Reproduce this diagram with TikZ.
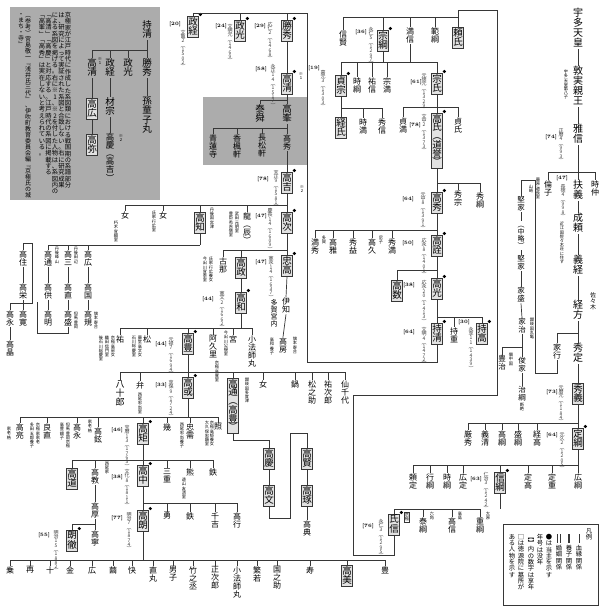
\documentclass[tikz,border=0pt]{standalone}
\usepackage{fontspec}
\newfontfamily\jp{Noto Sans CJK JP}
\usetikzlibrary{calc}
\ExplSyntaxOn
\NewDocumentCommand\vt{O{1}m}{\vbox{\baselineskip=#1em\lineskiplimit=-\maxdimen\lineskip=0pt\tl_map_inline:nn{#2}{\hbox_to_wd:nn{1em}{\hss##1\hss\vrule height.8em depth.2em width0pt}}}}
\ExplSyntaxOff
\definecolor{panel}{RGB}{172,172,172}
\definecolor{boxf}{RGB}{226,226,226}
\definecolor{lnc}{RGB}{55,55,55}
\tikzset{
 nm/.style={font=\jp\fontsize{8}{8}\selectfont, inner sep=0.3pt, anchor=north},
 nmb/.style={nm, font=\jp\fontsize{9.5}{9.5}\selectfont},
 big/.style={nm, font=\jp\fontsize{10}{10}\selectfont},
 bx/.style={nmb, draw=lnc, fill=boxf, line width=0.5pt, inner sep=0.8pt},
 dt/.style={font=\jp\fontsize{5}{5}\selectfont, inner sep=0pt, anchor=north, text=black!75},
 sm/.style={font=\jp\fontsize{4.2}{4.2}\selectfont, inner sep=0pt, anchor=north},
 ag/.style={font=\bfseries\fontsize{5}{5}\selectfont, inner sep=0pt, anchor=north},
 pn/.style={font=\jp\fontsize{6.3}{6.3}\selectfont, inner sep=0pt, anchor=north},
 lg/.style={font=\jp\fontsize{6.3}{6.3}\selectfont, inner sep=0pt, anchor=north},
 ln/.style={draw=lnc, line width=0.7pt},
}
\newcommand\NN[4][nm]{\node[#1] (#2) at (#3) {\vt{#4}};}
\newcounter{tn}
\newcommand\DT[2]{\stepcounter{tn}\node[dt] (dt\arabic{tn}) at (#1) {\vt[0.86]{#2}};}
\newcommand\AG[2]{\stepcounter{tn}\node[ag] (ag\arabic{tn}) at (#1) {[#2]};}
\newcommand\SM[2]{\stepcounter{tn}\node[sm] (sm\arabic{tn}) at (#1) {\vt{#2}};}
\newcommand\hd[1]{\fill ([xshift=1.5pt,yshift=1.5pt]#1.north east) circle (1.7pt);}
\newcommand\famrow[5]{%
 \draw[ln] (#1.south) -- (#1.south |- 0,#2);
 \draw[ln] (#3.north |- 0,#2) -- (#4.north |- 0,#2);
 \foreach \k in {#5}{\draw[ln] (\k.north) -- (\k.north |- 0,#2);}}
\newcommand\vl[2]{\draw[ln] (#1.south) -- (#2.north);}
\begin{document}
\begin{tikzpicture}[x=1pt,y=-1pt]
\useasboundingbox (0,0) rectangle (600,607);
\fill[white] (0,0) rectangle (600,607);
\fill[panel] (10,7) rectangle (160,200);
\fill[panel] (203,97) rectangle (307,165);
% ---- panel 1 notes
\node[pn] (n1) at (68,12) {\vt{京極家が江戸時代に作成した系図類における戦国期の系譜部分}};
\node[pn] (n2) at (61.5,12) {\vt{は、研究によって実証された系図と合致しない。右に研究成果}};
\node[pn] (n3) at (55,12) {\vt{による系図を掲げる。右に※1、※2を付した人物は、系図内の}};
\node[pn] (n4) at (48.5,12) {\vt{﹁高清﹂﹁高慶﹂と対応する。江戸時代の系図に掲載する}};
\node[pn] (n5) at (42,12) {\vt{﹁高峯﹂﹁高秀﹂は実在しないと考えられている。}};
\node[pn,font=\jp\fontsize{6}{6}\selectfont] (n6) at (28,12) {\vt{︵参考︶宮島敬一﹃浅井氏三代﹄、伊吹町教育委員会編﹃京極氏の城}};
\node[pn,font=\jp\fontsize{6}{6}\selectfont] (n7) at (21,12) {\vt{・まち・寺﹄}};
% ---- panel 1 tree
\NN[nmb]{pmochi}{147,20}{持清}
\NN[nmb]{pkatsu}{147,58}{勝秀}
\NN[nmb]{pmasa}{128,58}{政光}
\NN[nmb]{ptsune}{110,58}{政経}
\NN[nmb]{pkiyo}{92,58}{高清}
\SM{100,57}{※1}
\NN[nmb]{pmago}{147,96}{孫童子丸}
\NN[nmb]{pkimune}{110,97}{材宗}
\node[nm,font=\jp\fontsize{8.5}{8.5}\selectfont] (ptakayo) at (110,133) {\vt[0.95]{高慶︵高吉︶}};
\SM{121,134}{※2}
\NN[bx]{phiro}{92,98}{高広}
\NN[bx]{pya}{92,134}{高弥}
\famrow{pmochi}{50}{pkiyo}{pkatsu}{pkiyo,ptsune,pmasa,pkatsu}
\vl{pkatsu}{pmago}
\vl{ptsune}{pkimune}
\vl{pkimune}{ptakayo}
\vl{pkiyo}{phiro}
\vl{phiro}{pya}
% ---- main top row
\NN[bx]{tsune}{193,16}{政経}\hd{tsune}
\DT{183,30}{文亀2︵1502︶}\AG{175,22}{20}
\NN[bx]{mitsu}{240,20}{政光}\hd{mitsu}
\DT{230,24}{文明元︵1469︶}\AG{221,24}{24}
\NN[bx]{katsu}{287,20}{勝秀}\hd{katsu}
\DT{270,22}{応仁2︵1468︶}\AG{260,24}{29}
\NN[bx]{kiyo}{287,73}{高清}\hd{kiyo}
\DT{273,64}{永正14︵1517︶}\AG{261,67}{58}
\SM{301,72}{※1}
\vl{katsu}{kiyo}
% panel 2
\NN[nmb]{mine}{287,104}{高峯}
\NN[nmb]{shun}{260,104}{泰舜}
\vl{kiyo}{mine}
\draw[ln] (shun.north) -- (shun.north |- 0,100) -- (mine.north |- 0,100);
\NN{shoren}{213,134}{青蓮寺}
\NN{kofu}{237,134}{香楓軒}
\NN{choshou}{262,134}{長松軒}
\NN{phide}{287,134}{高秀}
\famrow{mine}{128}{shoren}{phide}{shoren,kofu,choshou,phide}
\NN[bx]{yoshi}{287,172}{高吉}\hd{yoshi}
\DT{276,170}{天正9︵1581︶}\AG{263,177}{78}
\SM{302,185}{※2}
\vl{phide}{yoshi}
% row 205
\NN{onnaA}{125,211}{女}\SM{116,221}{朽木宣綱室}
\NN{onnaB}{163,211}{女}\SM{154,211}{氏家行広室}
\NN[bx]{tomo}{200,212}{高知}\SM{212,208}{丹後国宮津}
\NN{ryu}{247,212}{龍︵辰︶}\SM{237,212}{武田元明室}\SM{231,212}{豊臣秀吉側室}
\NN[bx]{tsugu}{287,212}{高次}\hd{tsugu}
\DT{270,208}{慶長14︵1609︶}\AG{261,214}{47}
\famrow{yoshi}{205}{onnaA}{tsugu}{onnaA,onnaB,tomo,ryu,tsugu}
% row 250
\NN{kona}{223,257}{古那}\SM{211,257}{氏家行広養女}\SM{205,257}{今出川宣季室}
\NN[bx]{masa}{241,257}{高政}
\NN[bx]{tada}{287,255}{忠高}\hd{tada}
\DT{271,256}{寛永14︵1637︶}\AG{261,260}{47}
\famrow{tsugu}{250}{kona}{tada}{kona,masa,tada}
\NN{ichi}{286,297}{伊知}
\NN[nm,font=\jp\fontsize{7}{7}\selectfont]{taga}{274,299}{多賀宮内}
\vl{tada}{ichi}
\NN[bx]{kazu}{241,292}{高和}\hd{kazu}
\DT{222,291}{寛文2︵1662︶}\AG{208,297}{44}
\vl{masa}{kazu}
\NN{fusa}{283,337}{高房}\SM{272,338}{高和養子}\SM{295,337}{旗本寄合}
\vl{ichi}{fusa}
% row 328
\NN{yu}{120,335}{祐}\SM{113,336}{京極高房女}\SM{107,336}{織田信門室}\SM{101,336}{後石川総慶室}
\NN{matsu}{147,335}{松}\SM{140,336}{藤堂高文女}\SM{134,336}{石川総慶室}
\NN[bx]{toyo}{188,333}{高豊}\hd{toyo}
\DT{171,337}{元禄7︵1694︶}\AG{161,342}{44}
\NN{akuri}{213,335}{阿久里}\SM{217,361}{京極高寛室}
\NN{miya}{233,335}{宮}\SM{226,331}{今出川公規室}
\NN{kobo}{252,335}{小法師丸}
\famrow{kazu}{328}{yu}{kobo}{yu,matsu,toyo,akuri,miya,kobo}
% row 372
\NN[nm,font=\jp\fontsize{9}{9}\selectfont]{yaso}{120,380}{八十郎}
\NN{ben}{140,381}{弁}\SM{140,393}{西尾忠尚室}
\NN[bx]{kei}{188,377}{高或}\hd{kei}
\DT{171,380}{享保9︵1724︶}\AG{161,383}{33}
\node[bx] (michi) at (233,378) {\vt[0.92]{高通︵高豊︶}};
\SM{247,378}{讃岐国多度津}
\NN{onnaC}{263,380}{女}
\NN{nabe}{295,380}{鍋}
\NN{matsuno}{312,380}{松之助}
\NN{yuji}{328,380}{祐次郎}
\NN{sen}{345,380}{仙千代}
\famrow{toyo}{372}{yaso}{sen}{yaso,ben,kei,michi,onnaC,nabe,matsuno,yuji,sen}
% row 417
\NN{ryo}{20,423}{高亮}\SM{9,427}{家老格}
\NN{yoshinao}{47,423}{良直}\SM{38,423}{京極家家老}\SM{32,423}{多田五郎養子}
\NN{takanaga}{77,423}{高永}\SM{68,423}{但馬豊岡京極}\SM{62,423}{高豊嫡子}
\NN{takayu}{98,427}{高鉉}\SM{90,420}{家老格}
\NN[bx]{nori}{143,423}{高矩}\hd{nori}
\DT{127,425}{宝暦13︵1763︶}\AG{117,428}{46}
\NN{iku}{167,423}{幾}
\NN{tadamoto}{190,423}{忠需}\SM{182,423}{西尾忠尚養子}
\NN{teru}{218,423}{照}\SM{212,421}{京極高矩養女}\SM{207,421}{大久保忠顕室}
\famrow{kei}{417}{ryo}{teru}{ryo,yoshinao,takanaga,takayu,nori,iku,tadamoto,teru}
% row 460
\NN[bx]{michib}{72,468}{高道}
\NN{norib}{95,468}{高教}\SM{107,462}{西尾家}
\NN[bx]{naka}{143,465}{高中}\hd{naka}
\DT{127,469}{文化8︵1811︶}\AG{117,475}{38}
\NN{mie}{167,468}{三重}
\NN{kuma}{190,468}{熊}\SM{184,478}{遠山友清室}
\NN{tetsuA}{213,468}{鉄}
\famrow{nori}{460}{michib}{tetsuA}{michib,norib,naka,mie,kuma,tetsuA}
\NN{atsu}{95,502}{高厚}
\vl{norib}{atsu}
\NN[bx]{rotetsu}{72,530}{朗徹}\hd{rotetsu}
\DT{56,530}{明治15︵1882︶}\AG{44,533}{55}
\NN{nei}{95,530}{高寧}
\famrow{atsu}{524}{rotetsu}{nei}{rotetsu,nei}
% row 503
\NN[bx]{rou}{143,510}{高朗}\hd{rou}
\DT{129,512}{明治7︵1874︶}\AG{117,516}{77}
\NN{isamu}{167,512}{勇}
\NN{tetsuB}{190,512}{鉄}
\NN{senkichi}{215,512}{千吉}
\NN{takayuki}{237,512}{高行}
\famrow{naka}{503}{rou}{takayuki}{rou,isamu,tetsuB,senkichi,takayuki}
% bottom row
\NN{c1}{10,566}{乗}\NN{c2}{30,566}{再}\NN{c3}{50,566}{十}\NN{c4}{70,566}{金}
\NN{c5}{92,566}{広}\NN{c6}{113,566}{繭}\NN{c7}{132,566}{快}\NN{c8}{153,566}{直丸}
\NN{c9}{173,566}{男子}\NN{c10}{193,566}{竹之丞}\NN{c11}{215,566}{正次郎}
\NN{c12}{237,566}{小法師丸}\NN{c13}{257,566}{繁若}\NN{c14}{277,566}{国之助}
\NN{c15}{310,566}{寿}\NN[bx]{c16}{347,565}{高美}\NN{c17}{385,566}{豊}
\famrow{rou}{560}{c1}{c17}{c1,c2,c3,c4,c5,c6,c7,c8,c9,c10,c11,c12,c13,c14,c15,c16,c17}
% takayoshi/takakata branch
\NN[bx]{keyoshi}{269,448}{高慶}
\NN[bx]{fumi}{269,485}{高文}
\NN[bx]{kata}{307,448}{高賢}
\NN[bx]{taku}{307,485}{高琢}
\NN{norinori}{307,520}{高典}
\draw[ln] (michi.south) -- (michi.south |- 0,440) -- (keyoshi.north |- 0,440) -- (keyoshi.north);
\vl{keyoshi}{fumi}
\draw[ln] (fumi.south) -- (fumi.south |- 0,518) -- (290,518) -- (290,433) -- (kata.north |- 0,433) -- (kata.north);
\vl{kata}{taku}
\vl{taku}{norinori}
% left branch
\NN{takasumi}{23,250}{高住}
\NN{takaei}{23,283}{高栄}
\NN{takahiroK}{23,310}{高寛}
\NN{takanagaB}{10,310}{高永}
\NN{takaakiB}{10,340}{高晶}
\vl{takasumi}{takaei}\vl{takaei}{takahiroK}\vl{takanagaB}{takaakiB}
\draw[ln] (takasumi.north) -- (23,243) -- (32,243) -- (32,303) -- (takanagaB.north |- 0,303) -- (takanagaB.north);
\NN{tmichi}{48,250}{高通}\SM{57,247}{丹後峰山}
\NN{tmi}{68,250}{高三}\SM{76,247}{丹後田辺}
\NN{thiro}{88,250}{高広}
\famrow{tomo}{245}{tmichi}{tomo}{tmichi,tmi,thiro}
\NN{ttomo}{48,283}{高供}\NN{tnao}{68,283}{高直}\NN{tkuni}{88,283}{高国}
\NN{takiB}{48,310}{高明}\NN{tmori}{68,310}{高盛}\SM{76,312}{但馬豊岡}
\NN{tnori}{88,310}{高規}\SM{96,312}{旗本寄合}
\vl{tmichi}{ttomo}\vl{tmi}{tnao}\vl{thiro}{tkuni}
\vl{ttomo}{takiB}\vl{tnao}{tmori}\vl{tkuni}{tnori}
\draw[ln] (37,302) -- (37,333) -- (tmori.south |- 0,333) -- (tmori.south);
% ---- right-middle tree
\NN[bx]{yoriuji}{458,27}{頼氏}
\NN{nobukata}{343,30}{信賢}
\NN[bx]{munetsuna}{383,30}{宗綱}\hd{munetsuna}
\DT{371,27}{永仁5︵1297︶}\AG{361,30}{36}
\NN{mitsunobu}{410,27}{満信}
\NN{noritsuna}{435,27}{範綱}
\draw[ln] (nobukata.north |- 0,17) -- (yoriuji.north |- 0,17);
\foreach \k in {nobukata,munetsuna,mitsunobu,noritsuna}{\draw[ln] (\k.north) -- (\k.north |- 0,17);}
\NN[bx]{sadamune}{341,75}{貞宗}\hd{sadamune}
\DT{323,70}{嘉元3︵1303︶}\AG{314,66}{19}
\NN{tokitsuna}{357,77}{時綱}
\NN{sukenobu}{372,77}{祐信}
\NN{munemitsu}{387,77}{宗満}
\NN[bx]{muneuji}{437,73}{宗氏}\hd{muneuji}
\DT{424,73}{元徳元︵1329︶}\AG{416,80}{61}
\famrow{munetsuna}{62}{sadamune}{muneuji}{sadamune,tokitsuna,sukenobu,munemitsu,muneuji}
\draw[ln] (mitsunobu.south) -- (mitsunobu.south |- 0,62);
\NN[bx]{tsuneuji}{341,117}{経氏}
\NN{tokimitsu}{363,118}{時満}
\NN{hidenobu}{382,118}{秀信}
\famrow{sadamune}{108}{tsuneuji}{hidenobu}{tsuneuji,tokimitsu,hidenobu}
\NN{sadamitsu}{403,117}{貞満}
\node[bx] (takauji) at (437,113) {\vt[0.92]{高氏︵道誉︶}};\hd{takauji}
\DT{424,114}{文中2︵1373︶}\AG{415,123}{78}
\NN{sadauji}{458,117}{貞氏}
\famrow{muneuji}{107}{sadamitsu}{sadauji}{sadamitsu,takauji,sadauji}
\NN[bx]{takahide}{437,192}{高秀}\hd{takahide}
\DT{423,192}{元中8︵1391︶}\AG{408,197}{64}
\NN{hidemune}{458,190}{秀宗}
\NN{hidetsuna}{480,192}{秀綱}
\famrow{takauji}{183}{takahide}{hidetsuna}{takahide,hidemune,hidetsuna}
\NN{mitsuhide}{315,238}{満秀}\SM{324,236}{多賀}
\NN{takamasa}{333,238}{高雅}
\NN{hidemasu}{353,238}{秀益}
\NN{takahisa}{372,238}{高久}\SM{381,236}{尼子}
\NN{hidemitsu}{392,238}{秀満}
\NN[bx]{takaakira}{437,235}{高詮}\hd{takaakira}
\DT{424,238}{応永8︵1401︶}\AG{408,241}{50}
\famrow{takahide}{230}{mitsuhide}{takaakira}{mitsuhide,takamasa,hidemasu,takahisa,hidemitsu,takaakira}
\NN[bx]{takakazu}{397,280}{高数}
\NN[bx]{takamitsu}{437,278}{高光}\hd{takamitsu}
\DT{424,280}{応永20︵1413︶}\AG{409,283}{38}
\famrow{takaakira}{270}{takakazu}{takamitsu}{takakazu,takamitsu}
\NN[bx]{mochi}{437,323}{持清}\hd{mochi}
\DT{424,327}{文明4︵1472︶}\AG{409,330}{64}
\NN{mochishige}{454,327}{持重}
\NN[bx]{mochitaka}{482,323}{持高}\hd{mochitaka}
\DT{471,327}{永享11︵1439︶}\AG{464,320}{30}
\famrow{takamitsu}{317}{mochi}{mochitaka}{mochi,mochishige,mochitaka}
% 持清 -> 政経・政光・勝秀
\draw[ln] (mochi.south) -- (mochi.south |- 0,362) -- (307,362) -- (307,13) -- (tsune.north |- 0,13);
\foreach \k in {tsune,mitsu,katsu}{\draw[ln] (\k.north) -- (\k.north |- 0,13);}
% ---- right column
\NN[big]{uda}{578,8}{宇多天皇}
\NN[big]{atsumi}{578,66}{敦実親王}\SM{566,70}{宇多天皇第八子}
\NN[big]{masanobu}{578,124}{雅信}
\DT{561,128}{正暦4︵993︶}\AG{551,135}{74}
\vl{uda}{atsumi}\vl{atsumi}{masanobu}
\NN{tomoko}{548,180}{倫子}\SM{538,178}{藤原道長室}
\NN[big]{sukeyoshi}{578,180}{扶義}
\AG{562,176}{47}\DT{563,184}{長徳4︵998︶}
\NN{tokinaka}{595,180}{時仲}
\famrow{masanobu}{172}{tomoko}{tokinaka}{tomoko,sukeyoshi,tokinaka}
\NN[big]{nariyori}{578,213}{成頼}\SM{562,222}{近江国佐々木荘に住す}
\NN[big]{yoshitsune}{578,255}{義経}
\NN[big]{tsunekata}{578,300}{経方}
\node[nm,font=\jp\fontsize{6}{6}\selectfont] (sasaki) at (593,292) {\vt{佐々木}};
\vl{sukeyoshi}{nariyori}\vl{nariyori}{yoshitsune}\vl{yoshitsune}{tsunekata}
\NN{ieyuki}{557,343}{家行}
\NN[big]{hidesada}{578,343}{秀定}
\famrow{tsunekata}{333}{ieyuki}{hidesada}{ieyuki,hidesada}
\NN[bx]{hideyoshi}{578,383}{秀義}
\DT{561,385}{元暦元︵1184︶}\AG{552,390}{73}
\vl{hidesada}{hideyoshi}
\NN[bx]{sadatsuna}{578,428}{定綱}\hd{sadatsuna}
\DT{562,432}{元久2︵1205︶}\AG{552,433}{64}
\NN{gensyu}{468,430}{厳秀}\NN{yoshikiyo}{485,430}{義清}\NN{takatsuna}{502,430}{高綱}
\NN{moritsuna}{518,430}{盛綱}\NN{tsunetaka}{537,430}{経高}
\famrow{hideyoshi}{423}{gensyu}{sadatsuna}{gensyu,yoshikiyo,takatsuna,moritsuna,tsunetaka,sadatsuna}
\NN{yorisada}{413,473}{頼定}\NN{yukitsuna}{430,473}{行綱}\NN{tokitsunaB}{447,473}{時綱}
\NN{hirosada}{463,473}{広定}
\NN[bx]{nobutsuna}{500,472}{信綱}\hd{nobutsuna}
\DT{486,472}{仁治3︵1242︶}\AG{476,477}{63}
\NN{sadataka}{528,473}{定高}\NN{sadashige}{552,473}{定重}\NN{hirotsuna}{578,473}{広綱}
\famrow{sadatsuna}{465}{yorisada}{hirotsuna}{yorisada,yukitsuna,tokitsunaB,hirosada,nobutsuna,sadataka,sadashige,hirotsuna}
\NN[bx]{ujinobu}{394,514}{氏信}\hd{ujinobu}
\DT{381,519}{永仁3︵1295︶}\AG{368,524}{76}
\node[sm,draw=lnc,line width=0.4pt,inner sep=0.5pt] (kyogoku) at (407,512) {\vt{京極}};
\NN{yasutsuna}{423,517}{泰綱}\SM{432,512}{六角}
\NN{takanobu}{452,517}{高信}\SM{460,512}{高島}
\NN{shigetsuna}{480,517}{重綱}\SM{488,512}{大原}
\famrow{nobutsuna}{509}{ujinobu}{shigetsuna}{ujinobu,yasutsuna,takanobu,shigetsuna}
% 氏信 -> 頼氏
\draw[ln] (ujinobu.south) -- (ujinobu.south |- 0,555) -- (353,555) -- (353,395) -- (497,395) -- (497,10) -- (yoriuji.north |- 0,10) -- (yoriuji.north);
% ---- Yamazaki column
\SM{531,185}{山崎}
\NN[nm,font=\jp\fontsize{7.5}{7.5}\selectfont]{kenA}{521,196}{堅家}
\NN[nm,font=\jp\fontsize{7}{7}\selectfont]{chu}{521,221}{︵中略︶}
\NN[nm,font=\jp\fontsize{7.5}{7.5}\selectfont]{kenB}{521,255}{堅家}
\NN[nm,font=\jp\fontsize{7.5}{7.5}\selectfont]{iemori}{521,287}{家盛}
\NN[nm,font=\jp\fontsize{7.5}{7.5}\selectfont]{ieharu}{522,318}{家治}\SM{532,318}{讃岐国丸亀}
\NN[nm,font=\jp\fontsize{7.5}{7.5}\selectfont]{toyoharu}{502,355}{豊治}\SM{511,353}{備中国}
\NN[nm,font=\jp\fontsize{7.5}{7.5}\selectfont]{toshiie}{522,357}{俊家}
\NN[nm,font=\jp\fontsize{7.5}{7.5}\selectfont]{harutsuna}{522,386}{治綱}\SM{522,403}{断絶}
\vl{kenA}{chu}\vl{chu}{kenB}\vl{kenB}{iemori}\vl{iemori}{ieharu}
\famrow{ieharu}{347}{toyoharu}{toshiie}{toyoharu,toshiie}
\vl{toshiie}{harutsuna}
\draw[ln] (kenA.north) -- (kenA.north |- 0,180) -- (535,180) -- (535,373) -- (ieyuki.south |- 0,373) -- (ieyuki.south);
% ---- legend
\draw[draw=lnc,line width=0.6pt] (503,524) rectangle (598,605);
\node[lg] (lg0) at (589,528) {\vt{凡例}};
\draw[ln] (579,534) -- (579,543);
\node[lg] (lg1) at (579,545) {\vt{血縁関係}};
\draw[draw=lnc,line width=1.8pt] (569,534) -- (569,543);
\node[lg] (lg2) at (569,545) {\vt{養子関係}};
\draw[ln,line width=0.5pt] (557.7,534) -- (557.7,543);
\draw[ln,line width=0.5pt] (560.3,534) -- (560.3,543);
\node[lg] (lg3) at (559,545) {\vt{婚姻関係}};
\node[lg] (lg4) at (549,534) {\vt{●は当主を示す}};
\node[lg] (lg5) at (540,534) {\vt{年号は没年}};
\node[lg] (lg6) at (531,534) {\vt{︻︼内の数字は享年}};
\node[lg] (lg7) at (521,534) {\vt{□は徳源院に墓所が}};
\node[lg] (lg8) at (512,534) {\vt{ある人物を示す}};
\end{tikzpicture}
\end{document}
